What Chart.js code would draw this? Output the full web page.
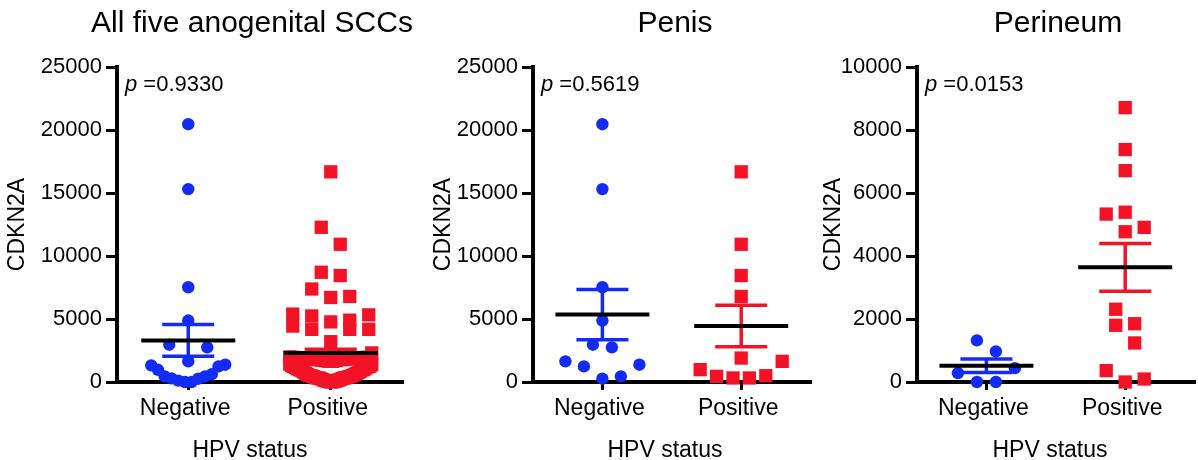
<!DOCTYPE html>
<html>
<head>
<meta charset="utf-8">
<script src="https://cdn.jsdelivr.net/npm/chart.js@4.4.1/dist/chart.umd.min.js"></script>
<style>
  html, body { margin: 0; padding: 0; background: #ffffff; overflow: hidden; }
  #wrap { position: relative; width: 1198px; height: 460px; overflow: hidden; }
  #wrap canvas { position: absolute; top: 0; }
</style>
</head>
<body>
<div id="wrap">
  <canvas id="panelAll" width="420" height="460" style="left:0px"></canvas>
  <canvas id="panelPenis" width="400" height="460" style="left:420px"></canvas>
  <canvas id="panelPerineum" width="384" height="460" style="left:820px"></canvas>
</div>
<script>
// ---- data: CDKN2A expression by HPV status ----
const groups = ['Negative', 'Positive'];

const penisNeg = [20460, 15310, 7520, 4880, 2960, 2750, 1640, 1370, 1240, 450, 260];
const penisPos = [16680, 10930, 8450, 6790, 1900, 1640, 980, 500, 450, 320, 320];

const perineumNeg = [1320, 970, 440, 285, 0, 0];
const perineumPos = [8710, 7380, 6710, 5390, 5330, 4910, 4770, 2310, 1850, 1800, 1240, 360, 95, 0];

// remaining three anogenital sites
const otherSitesNeg = [620, 110];
const otherSitesPos = [12280, 5240, 4440, 4180, 4180, 4180, 3200,
  15, 42, 58, 96, 118, 157, 176, 214, 247, 288, 315, 362, 398, 437, 489, 516, 574,
  603, 668, 695, 752, 806, 843, 911, 948, 1003, 1046, 1112, 1149, 1207, 1252, 1318,
  1366, 1425, 1652, 1688, 1705, 1731, 1760, 1772, 1806, 1820, 1851, 1873, 1889, 1904,
  1926, 1941, 1958, 1972, 1990];

const allNeg = [...penisNeg, ...perineumNeg, ...otherSitesNeg];
const allPos = [...penisPos, ...perineumPos, ...otherSitesPos];

// group mean and standard error of the mean [Negative, Positive]
const allMean = [3300, 2300];
const allSem = [1260, 300];
const penisMean = [5350, 4450];
const penisSem = [2000, 1650];
const perineumMean = [515, 3640];
const perineumSem = [212, 760];

const pValues = ['0.9330', '0.5619', '0.0153'];
const panelTitles = ['All five anogenital SCCs', 'Penis', 'Perineum'];
const yMaxes = [25000, 25000, 10000];
const yStepSizes = [5000, 5000, 2000];

// ---- styling ----
const FONT = '"Liberation Sans", Arial, Helvetica, sans-serif';
const BLUE = 'rgb(18, 44, 246)';
const RED = 'rgb(244, 18, 38)';

// slot order inside a row: odd rows grow 0, +1, -1, +2, -2 ...
// even rows grow +.5, -.5, -1.5, +1.5, -2.5, +2.5 ...
function slotFor(k, n) {
  if (n % 2) {
    if (k === 0) return 0;
    const m = Math.ceil(k / 2);
    return k % 2 ? m : -m;
  }
  const m = Math.floor(k / 2) + 0.5;
  if (k < 2) return k === 0 ? m : -m;
  return k % 2 ? m : -m;
}

// scatter-dot layout: group points into horizontal rows, then spread each row
const swarmPlugin = {
  id: 'swarm',
  afterDatasetUpdate(chart, args) {
    const ds = chart.data.datasets[args.index];
    const pts = args.meta.data.map((el, i) => ({ el, v: ds.data[i].y }));
    pts.sort((a, b) => a.v - b.v);
    const rowH = 18.5, gap = 19, half = ds.swarmHalf;
    let i = 0;
    while (i < pts.length) {
      const start = pts[i].el.y;
      const row = [];
      while (i < pts.length && start - pts[i].el.y < rowH) { row.push(pts[i]); i++; }
      const n = row.length;
      const step = n > 1 ? Math.min(gap, (2 * half) / (n - 1)) : 0;
      row.forEach((p, k) => { p.el.x += slotFor(k, n) * step; });
    }
  }
};

// mean line (black) with SEM whiskers in the group colour
const summaryPlugin = {
  id: 'summary',
  afterDatasetsDraw(chart) {
    const { ctx } = chart;
    const xs = chart.scales.x, ys = chart.scales.y;
    const seg = (x1, y1, x2, y2) => { ctx.beginPath(); ctx.moveTo(x1, y1); ctx.lineTo(x2, y2); ctx.stroke(); };
    ctx.save();
    ctx.lineCap = 'butt';
    chart.data.datasets.forEach((ds, i) => {
      const xc = xs.getPixelForValue(i);
      const ym = ys.getPixelForValue(ds.mean);
      const yh = ys.getPixelForValue(ds.mean + ds.sem);
      const yl = ys.getPixelForValue(Math.max(0, ds.mean - ds.sem));
      ctx.strokeStyle = ds.backgroundColor;
      ctx.lineWidth = 3.5;
      seg(xc, yh, xc, yl);
      seg(xc - 26, yh, xc + 26, yh);
      seg(xc - 26, yl, xc + 26, yl);
      ctx.strokeStyle = '#000';
      ctx.lineWidth = 4;
      seg(xc - 47, ym, xc + 47, ym);
    });
    ctx.restore();
  }
};

// panel title, x-axis title and p value
const panelTextPlugin = {
  id: 'panelText',
  afterDraw(chart, args, o) {
    const { ctx, chartArea } = chart;
    ctx.save();
    ctx.fillStyle = '#000';
    ctx.textBaseline = 'alphabetic';
    ctx.textAlign = 'center';
    ctx.font = '30px ' + FONT;
    ctx.fillText(o.title, o.titleX, 32);
    ctx.font = '23px ' + FONT;
    ctx.fillText(o.xTitle, o.xTitleX, 457);
    ctx.textAlign = 'left';
    const x0 = chartArea.left + 8;
    ctx.font = 'italic 22px ' + FONT;
    ctx.fillText('p', x0, 91);
    const w = ctx.measureText('p').width;
    ctx.font = '22px ' + FONT;
    ctx.fillText(' =' + o.p, x0 + w, 91);
    ctx.restore();
  }
};

function makePanel(canvasId, idx, neg, pos, mean, sem, lay) {
  return new Chart(document.getElementById(canvasId), {
    type: 'scatter',
    data: {
      datasets: [
        {
          data: neg.map(v => ({ x: groups[0], y: v })),
          pointStyle: 'circle', pointRadius: 6.2, borderWidth: 0,
          backgroundColor: BLUE, clip: false,
          swarmHalf: 37, mean: mean[0], sem: sem[0]
        },
        {
          data: pos.map(v => ({ x: groups[1], y: v })),
          pointStyle: 'rect', pointRadius: 9.4, borderWidth: 0,
          backgroundColor: RED, clip: false,
          swarmHalf: 41, mean: mean[1], sem: sem[1]
        }
      ]
    },
    options: {
      responsive: false,
      animation: false,
      events: [],
      layout: { padding: { left: 0, right: lay.padRight, top: 67, bottom: 38 } },
      plugins: {
        legend: { display: false },
        tooltip: { enabled: false },
        panelText: {
          title: panelTitles[idx], titleX: lay.titleX,
          xTitle: 'HPV status', xTitleX: lay.xTitleX,
          p: pValues[idx]
        }
      },
      scales: {
        x: {
          type: 'category',
          labels: groups,
          offset: true,
          grid: { display: true, drawOnChartArea: false, offset: false, tickLength: 8, tickWidth: 3, tickColor: '#000', lineWidth: 3 },
          border: { display: true, width: 4, color: '#000' },
          ticks: { color: '#000', font: { family: FONT, size: 23 }, padding: 5, labelOffset: -3, maxRotation: 0, autoSkip: false },
          afterFit: s => { s.height = 40; }
        },
        y: {
          type: 'linear',
          min: 0,
          max: yMaxes[idx],
          grid: { display: true, drawOnChartArea: false, tickLength: 11, tickWidth: 3, tickColor: '#000', lineWidth: 3 },
          border: { display: true, width: 4, color: '#000' },
          ticks: {
            stepSize: yStepSizes[idx], color: '#000', padding: 4,
            font: { family: FONT, size: 22 },
            callback: v => String(v)
          },
          title: {
            display: true, text: 'CDKN2A', color: '#000',
            font: { family: FONT, size: 23 },
            padding: { top: lay.yTitlePad, bottom: 0 }
          },
          afterFit: s => { s.width = lay.yWidth; }
        }
      }
    },
    plugins: [swarmPlugin, summaryPlugin, panelTextPlugin]
  });
}

makePanel('panelAll', 0, allNeg, allPos, allMean, allSem,
  { yWidth: 117, padRight: 18, yTitlePad: 4, titleX: 252, xTitleX: 250 });
makePanel('panelPenis', 1, penisNeg, penisPos, penisMean, penisSem,
  { yWidth: 113, padRight: 3, yTitlePad: 10, titleX: 255, xTitleX: 245 });
makePanel('panelPerineum', 2, perineumNeg, perineumPos, perineumMean, perineumSem,
  { yWidth: 97, padRight: 2, yTitlePad: 0, titleX: 238, xTitleX: 230 });
</script>
</body>
</html>
